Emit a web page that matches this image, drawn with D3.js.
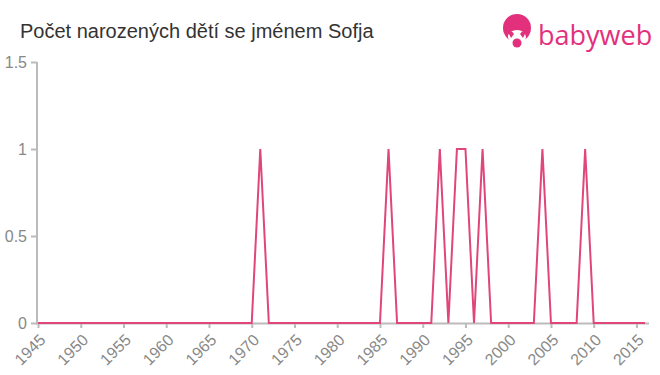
<!DOCTYPE html>
<html lang="cs">
<head>
<meta charset="utf-8">
<title>Počet narozených dětí se jménem Sofja</title>
<script src="https://d3js.org/d3.v7.min.js"></script>
<style>
    body { margin: 0; background: #fff; }
    .title { font-family: "Liberation Sans", Arial, sans-serif; font-size: 20px; fill: #333; }
    .tick text { font-family: "Liberation Sans", Arial, sans-serif; font-size: 16px; fill: #888; }
    .logo-text { font-family: "Open Sans", "Liberation Sans", sans-serif; font-size: 27px; fill: #e3307c; }
</style>
</head>
<body>
<script>
// years with one birth, every other year 1945-2016 is zero
var years = d3.range(1945, 2017);
var oneYears = [1971, 1986, 1992, 1994, 1995, 1997, 2004, 2009];
var counts = years.map(function(y) { return oneYears.indexOf(y) >= 0 ? 1 : 0; });
var xTicks = d3.range(1945, 2016, 5);
var yTicks = [0, 0.5, 1, 1.5];

var width = 660, height = 375;
var svg = d3.select("body").append("svg")
    .attr("width", width)
    .attr("height", height);

var x = d3.scaleLinear().domain([1945, 2016]).range([38, 645]);
var y = d3.scaleLinear().domain([0, 1.5]).range([323, 62]);

// title
svg.append("text")
    .attr("class", "title")
    .attr("x", 20)
    .attr("y", 38)
    .text("Počet narozených dětí se jménem Sofja");

// logo
var logo = svg.append("g");
logo.append("circle").attr("cx", 517).attr("cy", 28).attr("r", 14).attr("fill", "#e3307c");
logo.append("ellipse").attr("cx", 517).attr("cy", 37).attr("rx", 9).attr("ry", 7).attr("fill", "#fff");
logo.append("path").attr("d", "M508,32 Q512,30 514,34 L511,38 Z").attr("fill", "#e3307c");
logo.append("path").attr("d", "M526,32 Q522,30 520,34 L523,38 Z").attr("fill", "#e3307c");
logo.append("circle").attr("cx", 517).attr("cy", 43).attr("r", 4.5).attr("fill", "#e3307c");
logo.append("text")
    .attr("class", "logo-text")
    .attr("x", 538)
    .attr("y", 45)
    .text("babyweb");

// axes
var yAxis = svg.append("g")
    .attr("transform", "translate(37,0)")
    .call(d3.axisLeft(y).tickValues(yTicks).tickFormat(d3.format("")).tickSize(6).tickPadding(4));
yAxis.select(".domain").remove();
yAxis.selectAll("line").attr("stroke", "#bbb").attr("stroke-width", 2);
svg.append("line")
    .attr("x1", 37).attr("x2", 37)
    .attr("y1", y(1.5)).attr("y2", 324)
    .attr("stroke", "#bbb").attr("stroke-width", 2);

var xAxis = svg.append("g")
    .attr("transform", "translate(0,323)")
    .call(d3.axisBottom(x).tickValues(xTicks).tickFormat(d3.format("d")).tickSize(5));
xAxis.select(".domain").remove();
xAxis.selectAll("line").attr("stroke", "#bbb").attr("stroke-width", 2);
xAxis.selectAll("text")
    .attr("text-anchor", "end")
    .attr("x", 0)
    .attr("y", 0)
    .attr("dy", "0.35em")
    .attr("transform", "translate(4,14) rotate(-45)");
svg.append("line")
    .attr("x1", 36).attr("x2", 649)
    .attr("y1", 323.5).attr("y2", 323.5)
    .attr("stroke", "#bbb").attr("stroke-width", 2);

// line
var line = d3.line()
    .x(function(d, i) { return x(years[i]); })
    .y(function(d) { return y(d); });

svg.append("path")
    .datum(counts)
    .attr("fill", "none")
    .attr("stroke", "#e0457b")
    .attr("stroke-width", 2)
    .attr("d", line);
</script>
</body>
</html>
